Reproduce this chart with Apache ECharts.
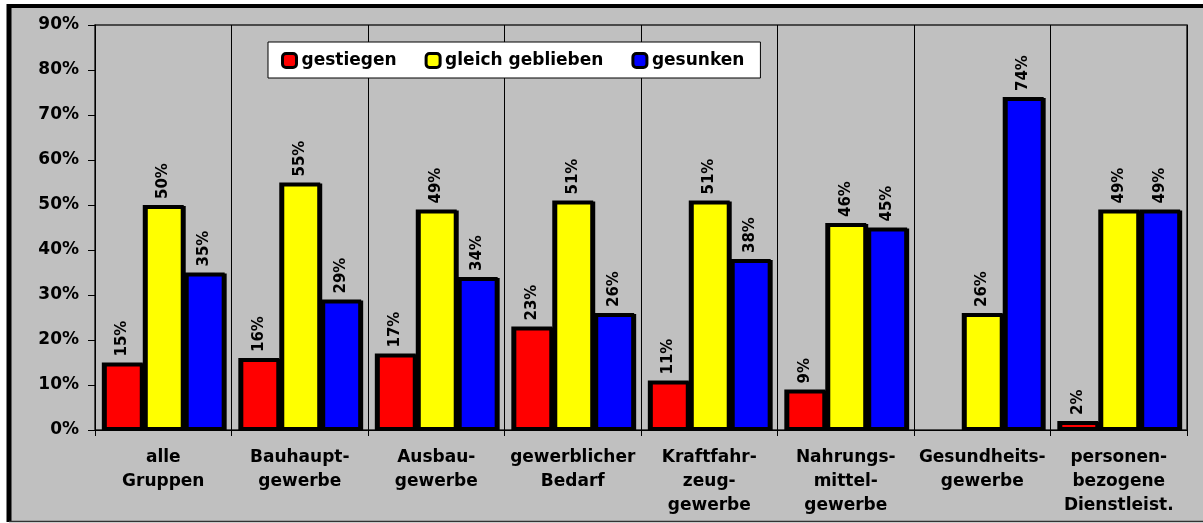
<!DOCTYPE html>
<html>
<head>
<meta charset="utf-8">
<script src="https://cdn.jsdelivr.net/npm/echarts@6/dist/echarts.min.js"></script>
<style>
  html, body { margin: 0; padding: 0; background: #ffffff; }
  #chart { width: 1203px; height: 523px; }
</style>
</head>
<body>
<div id="chart"></div>
<script>
var categories = ['alle\nGruppen', 'Bauhaupt-\ngewerbe', 'Ausbau-\ngewerbe', 'gewerblicher\nBedarf',
    'Kraftfahr-\nzeug-\ngewerbe', 'Nahrungs-\nmittel-\ngewerbe', 'Gesundheits-\ngewerbe', 'personen-\nbezogene\nDienstleist.'];
var gestiegen = [15, 16, 17, 23, 11, 9, null, 2];
var gleichGeblieben = [50, 55, 49, 51, 51, 46, 26, 49];
var gesunken = [35, 29, 34, 26, 38, 45, 74, 49];
var seriesNames = ['gestiegen', 'gleich geblieben', 'gesunken'];
var seriesColors = ['#ff0000', '#ffff00', '#0000ff'];

var chart = echarts.init(document.getElementById('chart'));
var font = '"DejaVu Sans", Arial, sans-serif';

function makeSeries(name, data, color) {
    return {
        name: name,
        type: 'bar',
        data: data,
        barGap: '0%',
        barCategoryGap: '10%',
        itemStyle: {
            color: color,
            borderColor: '#000',
            borderWidth: 3,
            shadowColor: '#000',
            shadowOffsetX: 2,
            shadowOffsetY: 1,
            shadowBlur: 0
        },
        label: {
            show: true,
            position: 'top',
            rotate: 90,
            align: 'left',
            verticalAlign: 'middle',
            distance: 6,
            formatter: '{c}%',
            color: '#000',
            fontWeight: 'bold',
            fontSize: 15,
            fontFamily: font
        }
    };
}

var option = {
    backgroundColor: '#ffffff',
    animation: false,
    graphic: [
        // chart area background, cut off at right and bottom like the original
        { type: 'rect', z: -10, shape: { x: 9, y: 6, width: 1194, height: 515 }, style: { fill: '#c0c0c0' } },
        { type: 'line', z: -9, shape: { x1: 9, y1: 4, x2: 9, y2: 522 }, style: { stroke: '#000', lineWidth: 5 } },
        { type: 'line', z: -9, shape: { x1: 7, y1: 6, x2: 1203, y2: 6 }, style: { stroke: '#000', lineWidth: 4 } },
        { type: 'line', z: -9, shape: { x1: 9, y1: 521.5, x2: 1203, y2: 521.5 }, style: { stroke: '#333', lineWidth: 1.5 } }
    ],
    legend: {
        left: 268,
        top: 42,
        padding: [10, 16, 9, 13],
        backgroundColor: '#ffffff',
        borderColor: '#000',
        borderWidth: 1,
        itemWidth: 14,
        itemHeight: 14,
        itemGap: 28,
        itemTextGap: 5,
        itemStyle: { borderColor: '#000', borderWidth: 3 },
        textStyle: { color: '#000', fontWeight: 'bold', fontSize: 17, fontFamily: font },
        data: seriesNames
    },
    grid: {
        left: 95,
        right: 16,
        top: 25,
        bottom: 93,
        show: true,
        backgroundColor: 'transparent',
        borderColor: '#222',
        borderWidth: 1.5
    },
    xAxis: {
        type: 'category',
        data: categories,
        axisLine: { lineStyle: { color: '#000', width: 1 } },
        axisTick: { show: true, length: 6, lineStyle: { color: '#000' } },
        splitLine: { show: true, lineStyle: { color: '#000', width: 1 } },
        axisLabel: {
            color: '#000',
            fontWeight: 'bold',
            fontSize: 17,
            fontFamily: font,
            lineHeight: 24,
            margin: 16,
            interval: 0
        }
    },
    yAxis: {
        type: 'value',
        min: 0,
        max: 90,
        interval: 10,
        axisLine: { show: true, lineStyle: { color: '#000', width: 1 } },
        axisTick: { show: true, length: 7, lineStyle: { color: '#000' } },
        splitLine: { show: false },
        axisLabel: {
            color: '#000',
            fontWeight: 'bold',
            fontSize: 17,
            fontFamily: font,
            margin: 16,
            formatter: '{value}%'
        }
    },
    series: [
        makeSeries(seriesNames[0], gestiegen, seriesColors[0]),
        makeSeries(seriesNames[1], gleichGeblieben, seriesColors[1]),
        makeSeries(seriesNames[2], gesunken, seriesColors[2])
    ]
};

chart.setOption(option);
</script>
</body>
</html>
